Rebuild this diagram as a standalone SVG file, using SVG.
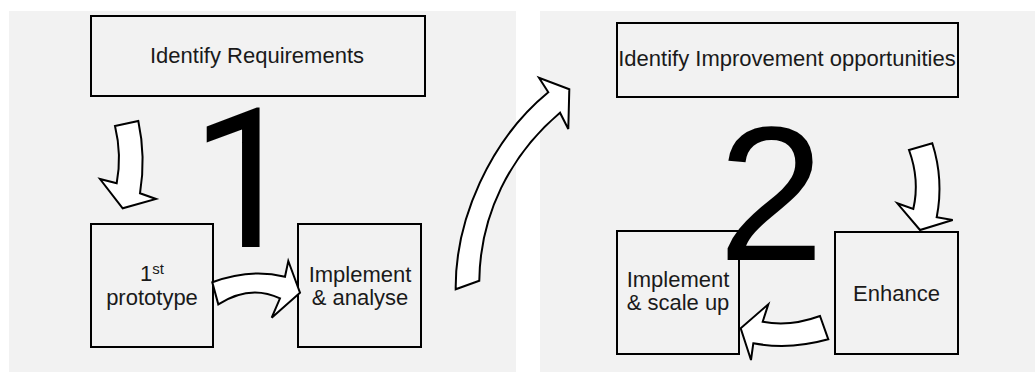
<svg xmlns="http://www.w3.org/2000/svg" width="1035" height="372" viewBox="0 0 1035 372">
<style>
.panel{fill:#f2f2f2}
.box{fill:#f2f2f2;stroke:#000;stroke-width:2}
.arrow{fill:#fff;stroke:#000;stroke-width:2;stroke-linejoin:miter}
.t{font-family:"Liberation Sans",Arial,sans-serif;font-size:22px;fill:#1a1a1a;text-anchor:middle}
.big{font-family:"Liberation Sans",Arial,sans-serif;font-size:191px;fill:#000;text-anchor:middle}
.one{font-family:Roboto,"Liberation Sans",sans-serif;font-size:194px;font-weight:400;fill:#000;text-anchor:middle}
</style>
<rect width="1035" height="372" fill="#fff"/>
<rect class="panel" x="9" y="11" width="507" height="361"/>
<rect class="panel" x="540" y="11" width="495" height="361"/>

<g id="num1"><text class="one" x="245" y="247">1</text></g>

<g id="identify-requirements">
<rect class="box" x="91" y="16" width="334" height="80"/>
<text class="t" x="257" y="63" font-size="22.6px">Identify Requirements</text>
</g>
<g id="prototype">
<rect class="box" x="91" y="224" width="122" height="123"/>
<text class="t" x="152" y="281">1<tspan font-size="15px" dy="-7">st</tspan></text>
<text class="t" x="152" y="305">prototype</text>
</g>
<g id="implement-analyse">
<rect class="box" x="298" y="224" width="123" height="123"/>
<text class="t" x="360" y="282">Implement</text>
<text class="t" x="360" y="305">&amp; analyse</text>
</g>

<g id="identify-improvement">
<rect class="box" x="617" y="23" width="341" height="74"/>
<text class="t" x="787" y="66" font-size="21px">Identify Improvement opportunities</text>
</g>
<g id="implement-scale">
<rect class="box" x="617" y="231" width="122" height="123"/>
<text class="t" x="678" y="287">Implement</text>
<text class="t" x="678" y="310">&amp; scale up</text>
</g>
<g id="num2"><text class="big" x="771" y="260">2</text></g>
<g id="enhance">
<rect class="box" x="835" y="232" width="123" height="122"/>
<text class="t" x="896.5" y="301">Enhance</text>
</g>

<g id="connectors">
<path class="arrow" d="M115 126 L138.3 121 Q146 157 140 193.3 L156 199 L122.7 208.3 L100 179 L116.7 183.3 Q122 155 115 126 Z"/>
<path class="arrow" d="M212.3 282.3 Q250 268 285 276.7 L288.3 261 L300 292.7 L271.7 317.7 L280 298.3 Q250 284 218.3 304.3 Z"/>
<path class="arrow" d="M455.7 289.3 C455 220 490 140 548.3 92.3 L539 77.7 L569.3 89.3 L568.3 129 L560 112.7 C510 155 480 215 479.3 280.7 Z"/>
<path class="arrow" d="M909 150 L932.3 143.3 Q944 180 936.7 217.3 L952.7 220 L920 230 L897.3 203.3 L913.3 209 Q920 180 909 150 Z"/>
<path class="arrow" d="M820 316 Q790 327 762.7 321.7 L768.3 304.3 L740.7 328.3 L751 360 L753.3 343.3 Q790 350 828.3 339.3 Z"/>
</g>
</svg>
